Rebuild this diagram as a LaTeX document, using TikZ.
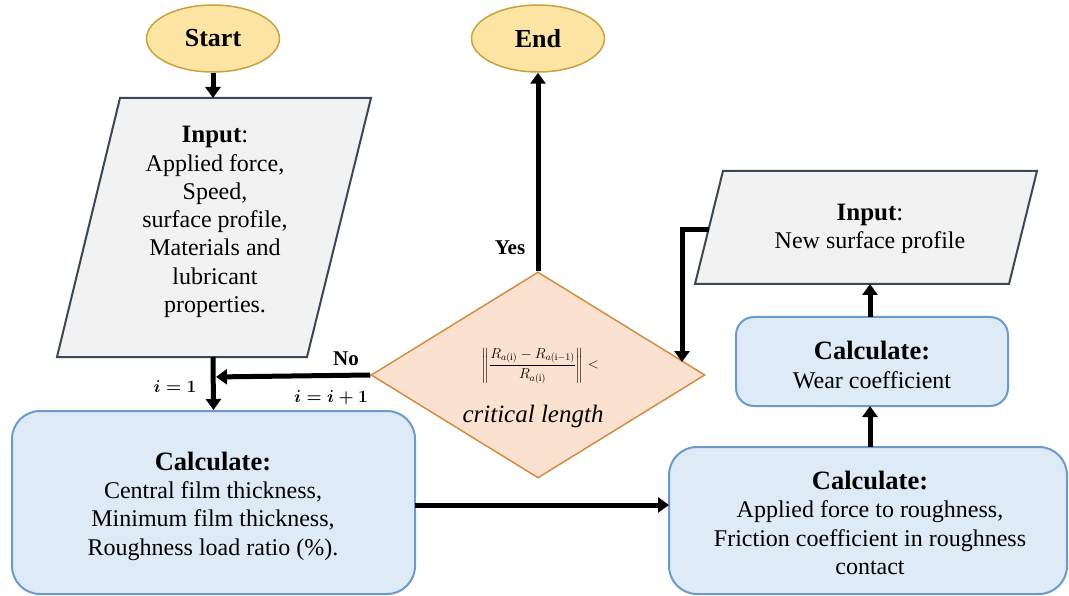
\documentclass[tikz,border=0pt]{standalone}
\usepackage{fontspec}
\setmainfont{Liberation Serif}
\usepackage{amsmath}
\usetikzlibrary{shapes.geometric,arrows.meta,calc}
\definecolor{termfill}{HTML}{FBE4A4}
\definecolor{termdraw}{HTML}{C8A23C}
\definecolor{iofill}{HTML}{F2F2F2}
\definecolor{iodraw}{HTML}{3B4657}
\definecolor{decfill}{HTML}{FBE2D0}
\definecolor{decdraw}{HTML}{D58B43}
\definecolor{procfill}{HTML}{DEEAF6}
\definecolor{procdraw}{HTML}{6B9BCB}
\tikzset{
  term/.style={ellipse, draw=termdraw, fill=termfill, line width=1.5pt, minimum width=133pt, minimum height=67pt, inner sep=0pt, font=\fontsize{26}{28}\selectfont\bfseries},
  proc/.style={rectangle, rounded corners=28pt, draw=procdraw, fill=procfill, line width=2pt, inner sep=0pt},
  iobox/.style={draw=iodraw, fill=iofill, line width=2pt, line join=miter},
  txt/.style={align=center, font=\fontsize{24}{28.3}\selectfont, inner sep=0pt},
  head/.style={font=\fontsize{26.5}{28.3}\selectfont\bfseries},
  flow/.style={line width=5pt, -{Triangle[length=11pt,width=15pt]}},
  lbl/.style={font=\fontsize{21}{23}\selectfont\bfseries, inner sep=0pt},
  mlbl/.style={font=\fontsize{16.5}{19}\selectfont, inner sep=0pt}
}
\begin{document}
\begin{tikzpicture}[x=1pt,y=-1pt]
\useasboundingbox (0,0) rectangle (1069,596);
% terminals
\node[term] (start) at (213,38.5) {Start};
\node[term] (end) at (538,38.5) {End};
% left input parallelogram
\coordinate (inTL) at (120,98);
\coordinate (inTR) at (371,98);
\coordinate (inBR) at (307,357);
\coordinate (inBL) at (57,357);
\draw[iobox] (inTL) -- (inTR) -- (inBR) -- (inBL) -- cycle;
\coordinate (inTop) at (213,98);
\coordinate (inBot) at (213,357);
\node[txt] (intext) at (215,222) {{\fontsize{25}{28.3}\selectfont\textbf{Input}:}\\Applied force,\\Speed,\\surface profile,\\Materials and\\ lubricant\\properties.};
% right input parallelogram
\coordinate (nTL) at (723,171);
\coordinate (nTR) at (1037,171);
\coordinate (nBR) at (1009,284);
\coordinate (nBL) at (695,284);
\draw[iobox] (nTL) -- (nTR) -- (nBR) -- (nBL) -- cycle;
\coordinate (nBot) at (870,284);
\coordinate (nLeft) at (708.5,230);
\node[txt] (ntext) at (870,229) {{\fontsize{25}{28.3}\selectfont\textbf{Input}:}\\New surface profile};
% decision
\node[diamond, draw=decdraw, fill=decfill, line width=1.5pt, minimum width=334pt, minimum height=206pt, inner sep=0pt] (dec) at (538,375) {};
\node[inner sep=0pt, font=\fontsize{14}{16}\selectfont] (form) at (540,366) {$\left\|\dfrac{R_{a(\mathrm{i})}-R_{a(\mathrm{i}-1)}}{R_{a(\mathrm{i})}}\right\|<$};
\node[inner sep=0pt, font=\fontsize{25}{27}\selectfont] (crit) at (533,416) {$\mathit{critical\ length}$};
% process boxes
\node[proc, minimum width=403pt, minimum height=183pt] (calc1) at (213.5,502.5) {};
\node[txt] (calc1t) at (213,506) {{\fontsize{26.5}{28.3}\selectfont\bfseries Calculate:}\\Central film thickness,\\Minimum film thickness,\\Roughness load ratio (\%).};
\node[proc, minimum width=398pt, minimum height=147pt] (calc2) at (868,520.5) {};
\node[txt] (calc2t) at (870,523) {{\fontsize{26.5}{28.3}\selectfont\bfseries Calculate:}\\Applied force to roughness,\\Friction coefficient in roughness\\contact};
\node[proc, rounded corners=18pt, minimum width=272pt, minimum height=89pt] (wear) at (872,361.5) {};
\node[txt] (weart) at (872,365) {{\fontsize{26.5}{28.3}\selectfont\bfseries Calculate:}\\Wear coefficient};
% connector anchors
\coordinate (jn) at (213,377);
\coordinate (corner) at (682,230);
\coordinate (decIn) at (682,362);
\coordinate (c1out) at (415,505);
\coordinate (c2in) at (669,505);
\coordinate (c2top) at (870,447);
\coordinate (wbot) at (870,406);
\coordinate (wtop) at (870,317);
% connectors
\draw[flow] (start.south) -- (inTop);
\draw[flow] (inBot) -- (calc1.north);
\draw[flow, shorten >=3pt] (dec.west) -- (jn);
\draw[flow] (dec.north) -- (end.south);
\draw[flow] (c1out) -- (c2in);
\draw[flow] (c2top) -- (wbot);
\draw[flow] (wtop) -- (nBot);
\draw[flow] (nLeft) -- (corner) -- (decIn);
% labels
\node[lbl] (no) at (346,359) {No};
\node[lbl] (yes) at (510,248) {Yes};
\node[mlbl] (ione) at (175,387) {$\boldsymbol{i=1}$};
\node[mlbl] (iinc) at (331,398) {$\boldsymbol{i=i+1}$};
\end{tikzpicture}
\end{document}
